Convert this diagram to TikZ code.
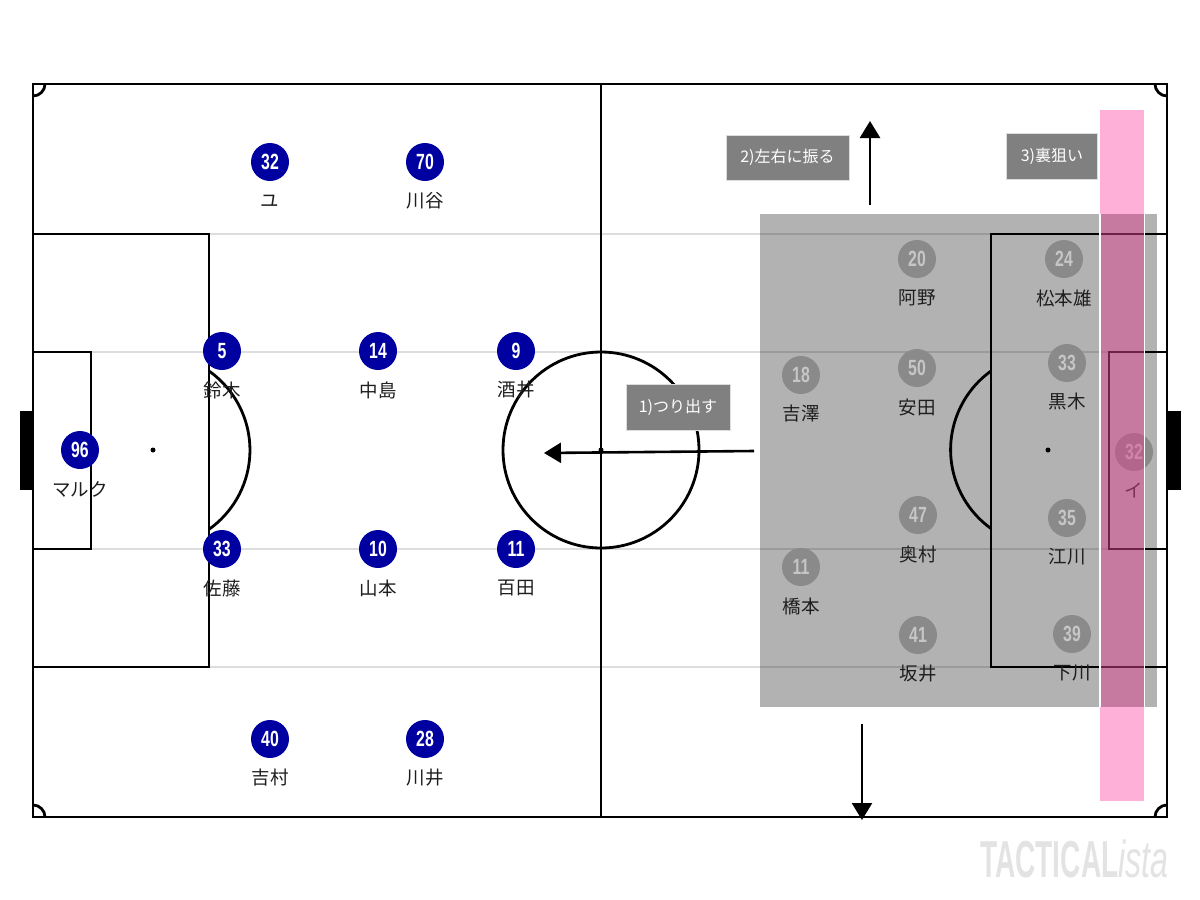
\documentclass[tikz,border=0pt]{standalone}
\usepackage{fontspec}
\usepackage{graphicx}
\setmainfont{Noto Sans}
\newfontfamily\jp{Noto Sans CJK JP}
\newfontfamily\numfont{Liberation Sans}
\usetikzlibrary{arrows.meta}
\definecolor{teamblue}{HTML}{0000A0}
\definecolor{lanegray}{HTML}{DDDDDD}
\definecolor{pgray}{HTML}{8A8A8A}
\definecolor{pgraytxt}{HTML}{C6C6C6}
\definecolor{boxgray}{HTML}{808080}
\definecolor{pinkband}{HTML}{FFB0D8}
\definecolor{pinkmix}{HTML}{DD438D}
\definecolor{wmgray}{HTML}{E3E3E3}
\definecolor{nametxt}{HTML}{1E1E1E}
\newcommand{\numtxt}[1]{\scalebox{0.72}[1]{\numfont\bfseries\fontsize{22}{22}\selectfont #1}}
\newcommand{\plB}[5]{%
  \node[bluep] (#1) at (#2,#3) {\numtxt{#4}};
  \node[pname] (#1n) at (#2,#3+39) {#5};}
\newcommand{\plG}[5]{%
  \node[grayp] (#1) at (#2,#3) {\numtxt{#4}};
  \node[pname] (#1n) at (#2,#3+39) {#5};}
\begin{document}
\begin{tikzpicture}[x=1pt,y=-1pt,
  pline/.style={line width=2.8pt,black},
  lane/.style={line width=2pt,lanegray},
  bluep/.style={circle,fill=teamblue,text=white,minimum size=38pt,inner sep=0pt},
  grayp/.style={circle,fill=pgray,text=pgraytxt,minimum size=38pt,inner sep=0pt},
  pname/.style={text=nametxt,font=\jp\fontsize{18.5}{18.5}\selectfont,inner sep=0pt},
  labbox/.style={fill=boxgray,draw=lanegray,line width=0.8pt,text=white,font=\jp\fontsize{16}{16}\selectfont,inner sep=0pt},
  movearrow/.style={line width=2.6pt,black,-{Triangle[length=17pt,width=20pt]}}]
\useasboundingbox (0,0) rectangle (1200,900);
\fill[white] (0,0) rectangle (1200,900);
% lane lines
\foreach \yy in {234,352,549,667} \draw[lane] (33,\yy) -- (1167,\yy);
% pitch
\draw[pline] (33,84) rectangle (1167,817);
\draw[pline] (601,84) -- (601,817);
\draw[pline] (601,450) circle[radius=98];
\fill (601,450) circle[radius=2.5];
% left end
\draw[pline] (33,234) rectangle (209,667);
\draw[pline] (33,352) rectangle (91,549);
\fill (153,450) circle[radius=2.5];
\draw[pline] (209,371) arc[start angle=-54.7,end angle=54.7,radius=97];
\fill (20,411) rectangle (33,490);
% right end
\draw[pline] (1167,234) -- (991,234) -- (991,667) -- (1167,667);
\draw[pline] (1167,352) -- (1109,352) -- (1109,549) -- (1167,549);
\fill (1048,450) circle[radius=2.5];
\draw[pline] (991,371) arc[start angle=234.3,end angle=125.7,radius=97];
\fill (1167,411) rectangle (1181,490);
% corners
\draw[pline] (45,84) arc[start angle=0,end angle=90,radius=12];
\draw[pline] (1167,96) arc[start angle=90,end angle=180,radius=12];
\draw[pline] (33,805) arc[start angle=-90,end angle=0,radius=12];
\draw[pline] (1155,817) arc[start angle=180,end angle=270,radius=12];
% blue team
\plB{b32}{270}{162}{32}{ユ}
\plB{b70}{425}{162}{70}{川谷}
\plB{b5}{222}{351}{5}{鈴木}
\plB{b14}{378}{351}{14}{中島}
\plB{b9}{516}{351}{9}{酒井}
\plB{b96}{80}{450}{96}{マルク}
\plB{b33}{222}{549}{33}{佐藤}
\plB{b10}{378}{549}{10}{山本}
\plB{b11}{516}{549}{11}{百田}
\plB{b40}{270}{739}{40}{吉村}
\plB{b28}{425}{739}{28}{川井}
% gray overlay
\fill[black,opacity=0.3] (760,214) rectangle (1157,707);
% gray team
\plG{g20}{917}{259}{20}{阿野}
\plG{g24}{1064}{259}{24}{松本雄}
\plG{g18}{801}{375}{18}{吉澤}
\plG{g50}{917}{368}{50}{安田}
\plG{g33}{1067}{363}{33}{黒木}
\plG{g32}{1134}{452}{32}{イ}
\plG{g47}{918}{515}{47}{奥村}
\plG{g35}{1067}{518}{35}{江川}
\plG{g11}{801}{567}{11}{橋本}
\plG{g41}{918}{635}{41}{坂井}
\plG{g39}{1072}{634}{39}{下川}
% pink band
\fill[pinkband] (1100,110) rectangle (1144,214);
\fill[pinkmix,opacity=0.5] (1100,214) rectangle (1144,707);
\fill[pinkband] (1100,707) rectangle (1144,801);
\draw[white,line width=1.2pt] (1100,214) -- (1100,707);
\draw[white,line width=1.2pt] (1144.5,214) -- (1144.5,707);
% labels
\node[labbox,minimum width=104pt,minimum height=46pt] (lab1) at (678,407) {1)つり出す};
\node[labbox,minimum width=123pt,minimum height=45pt] (lab2) at (787.5,157.5) {2)左右に振る};
\node[labbox,minimum width=91pt,minimum height=46pt] (lab3) at (1052,156.3) {3)裏狙い};
% arrows
\coordinate (a1s) at (754,451);
\coordinate (a1e) at (544,453);
\coordinate (a2s) at (870,205);
\coordinate (a2e) at (870,121);
\coordinate (a3s) at (862,724);
\coordinate (a3e) at (862,820);
\draw[movearrow] (a1s) -- (a1e);
\draw[movearrow] (a2s) -- (a2e);
\draw[movearrow] (a3s) -- (a3e);
% watermark
\node[anchor=west,inner sep=0pt,text=wmgray] (wm) at (980,859)
  {\scalebox{0.54}[1]{\numfont\fontsize{52}{52}\selectfont\bfseries TACTICAL}\scalebox{0.62}[1]{\numfont\fontsize{52}{52}\selectfont\itshape ista}};
\end{tikzpicture}
\end{document}
